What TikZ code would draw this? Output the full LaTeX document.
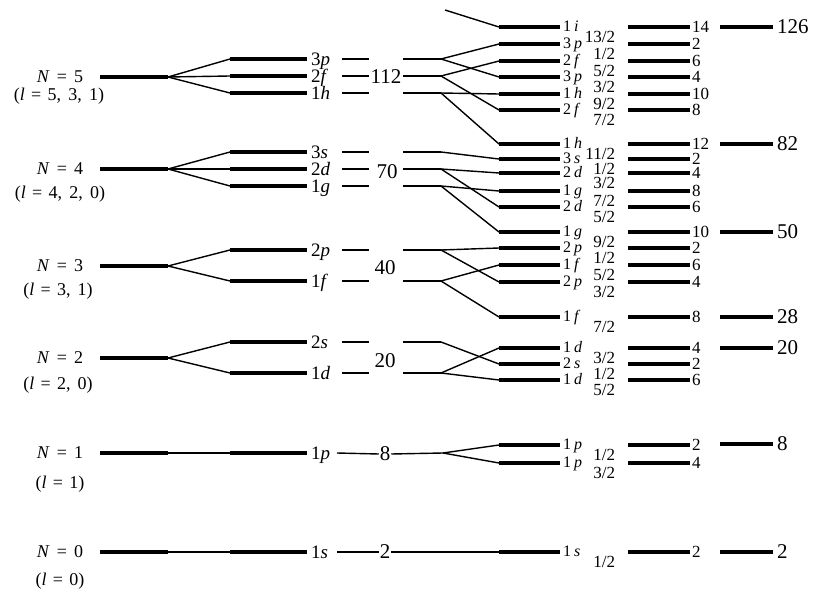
\documentclass[tikz,border=0pt]{standalone}
\usepackage{fontspec}
\setmainfont{Liberation Serif}
\begin{document}
\begin{tikzpicture}[x=1pt,y=-1pt,
  lvl/.style={line width=3.6pt},
  conn/.style={line width=1.4pt},
  every node/.style={inner sep=0pt, outer sep=0pt},
  nlab/.style={font=\fontsize{18}{20}\selectfont},
  blab/.style={font=\fontsize{19}{21}\selectfont, anchor=base west},
  mid/.style={font=\fontsize{21}{23}\selectfont, inner sep=1pt},
  clab/.style={font=\fontsize{16}{18}\selectfont, anchor=base west},
  csub/.style={font=\fontsize{17}{19}\selectfont, anchor=base east},
  cnt/.style={font=\fontsize{17}{19}\selectfont, anchor=west},
  mag/.style={font=\fontsize{21}{23}\selectfont, anchor=west}]
\useasboundingbox (0,0) rectangle (815,589);

% ---------- column A : oscillator shells ----------
\foreach \n/\y in {5/77,4/169,3/266,2/358,1/453,0/552} {
  \coordinate (A\n-l) at (100,\y);
  \coordinate (A\n-r) at (168,\y);
  \draw[lvl] (A\n-l) -- (A\n-r);
  \node[nlab] (NA\n) at (60,\y) {\textit{N}\hspace{0.4em}=\hspace{0.4em}\n};
}
\node[nlab,anchor=base] (LA5) at (59,100) {(\textit{l}\hspace{0.35em}=\hspace{0.35em}5,\hspace{0.4em}3,\hspace{0.4em}1)};
\node[nlab,anchor=base] (LA4) at (60,198) {(\textit{l}\hspace{0.35em}=\hspace{0.35em}4,\hspace{0.4em}2,\hspace{0.4em}0)};
\node[nlab,anchor=base] (LA3) at (58,295) {(\textit{l}\hspace{0.35em}=\hspace{0.35em}3,\hspace{0.4em}1)};
\node[nlab,anchor=base] (LA2) at (58,389) {(\textit{l}\hspace{0.35em}=\hspace{0.35em}2,\hspace{0.4em}0)};
\node[nlab,anchor=base] (LA1) at (60,488) {(\textit{l}\hspace{0.35em}=\hspace{0.35em}1)};
\node[nlab,anchor=base] (LA0) at (60,585) {(\textit{l}\hspace{0.35em}=\hspace{0.35em}0)};

% ---------- column B : n l levels ----------
\foreach \nm/\y/\n/\lt in {3p/59/3/p, 2f/76/2/f, 1h/93/1/h, 3s/152/3/s, 2d/169/2/d, 1g/186/1/g, 2p/250/2/p, 1f/281/1/f, 2s/342/2/s, 1d/373/1/d, 1p/453/1/p, 1s/552/1/s} {
  \coordinate (B\nm-l) at (230,\y);
  \coordinate (B\nm-r) at (307,\y);
  \draw[lvl] (B\nm-l) -- (B\nm-r);
  \node[blab] (BL\nm) at (311,\y+6.5) {\n\textit{\lt}};
}
% stubs to the right of the n l labels
\foreach \nm/\y in {3p/59, 2f/76, 1h/93, 3s/152, 2d/169, 1g/186, 2p/250, 1f/281, 2s/342, 1d/373} {
  \coordinate (R\nm-a) at (342,\y);
  \coordinate (R\nm-b) at (369,\y);
  \coordinate (R\nm-c) at (403,\y);
  \coordinate (S\nm) at (441,\y);
  \draw[conn] (R\nm-a) -- (R\nm-b);
  \draw[conn] (R\nm-c) -- (S\nm);
}

% A -> B splitting
\foreach \a/\b in {5/3p,5/2f,5/1h,4/3s,4/2d,4/1g,3/2p,3/1f,2/2s,2/1d,1/1p,0/1s} {
  \draw[conn] (A\a-r) -- (B\b-l);
}

% ---------- middle magic numbers ----------
\node[mid] (M112) at (386,77) {112};
\node[mid] (M70) at (387,172) {70};
\node[mid] (M40) at (385,268) {40};
\node[mid] (M20) at (385,361) {20};
\node[mid] (M8) at (385,454) {8};
\node[mid] (M2) at (385,552) {2};

\coordinate (T1p) at (337,453);
\coordinate (S1p) at (443,453);
\coordinate (T1s) at (337,552);
\draw[conn] (T1p) -- (M8.west);
\draw[conn] (M8.east) -- (S1p);
\draw[conn] (T1s) -- (M2.west);

% ---------- column C : n l j levels, column D : occupancies ----------
\foreach \nm/\y/\n/\lt/\j/\c in {i13/27/1/i/13/14, p1/44/3/p/1/2, f5/61/2/f/5/6, p3/77/3/p/3/4, h9/94/1/h/9/10, f7/110/2/f/7/8, h11/144/1/h/11/12, s1/159/3/s/1/2, d3/173/2/d/3/4, g7/191/1/g/7/8, d5/207/2/d/5/6, g9/232/1/g/9/10, p1b/248/2/p/1/2, f5b/265/1/f/5/6, p3b/282/2/p/3/4, f7b/317/1/f/7/8, d3b/348/1/d/3/4, s1b/364/2/s/1/2, d5b/380/1/d/5/6, p1c/445/1/p/1/2, p3c/463/1/p/3/4, s1c/552/1/s/1/2} {
  \coordinate (C\nm-l) at (499,\y);
  \coordinate (C\nm-r) at (560,\y);
  \draw[lvl] (C\nm-l) -- (C\nm-r);
  \node[clab] (CL\nm) at (563,\y+4.5) {\n\hspace{0.2em}\textit{\lt}};
  \node[csub] (CS\nm) at (615,\y+15) {\j/2};
  \coordinate (D\nm-l) at (628,\y);
  \coordinate (D\nm-r) at (690,\y);
  \draw[lvl] (D\nm-l) -- (D\nm-r);
  \node[cnt] (DC\nm) at (692,\y) {\c};
}

% B -> C splitting (spin-orbit)
\foreach \b/\c in {3p/p1, 3p/p3, 2f/f5, 2f/f7, 1h/h9, 1h/h11, 3s/s1, 2d/d3, 2d/d5, 1g/g7, 1g/g9, 2p/p1b, 2p/p3b, 1f/f5b, 1f/f7b, 2s/s1b, 1d/d3b, 1d/d5b, 1p/p1c, 1p/p3c} {
  \draw[conn] (S\b) -- (C\c-l);
}
\draw[conn] (M2.east) -- (Cs1c-l);
\coordinate (Top) at (445,10);
\draw[conn] (Top) -- (Ci13-l);

% ---------- column E : magic numbers ----------
\foreach \nm/\y/\m in {e126/27/126, e82/144/82, e50/232/50, e28/317/28, e20/348/20, e8/444/8, e2/552/2} {
  \coordinate (E\nm-l) at (720,\y);
  \coordinate (E\nm-r) at (773,\y);
  \draw[lvl] (E\nm-l) -- (E\nm-r);
  \node[mag] (EM\nm) at (777,\y) {\m};
}
\end{tikzpicture}
\end{document}
